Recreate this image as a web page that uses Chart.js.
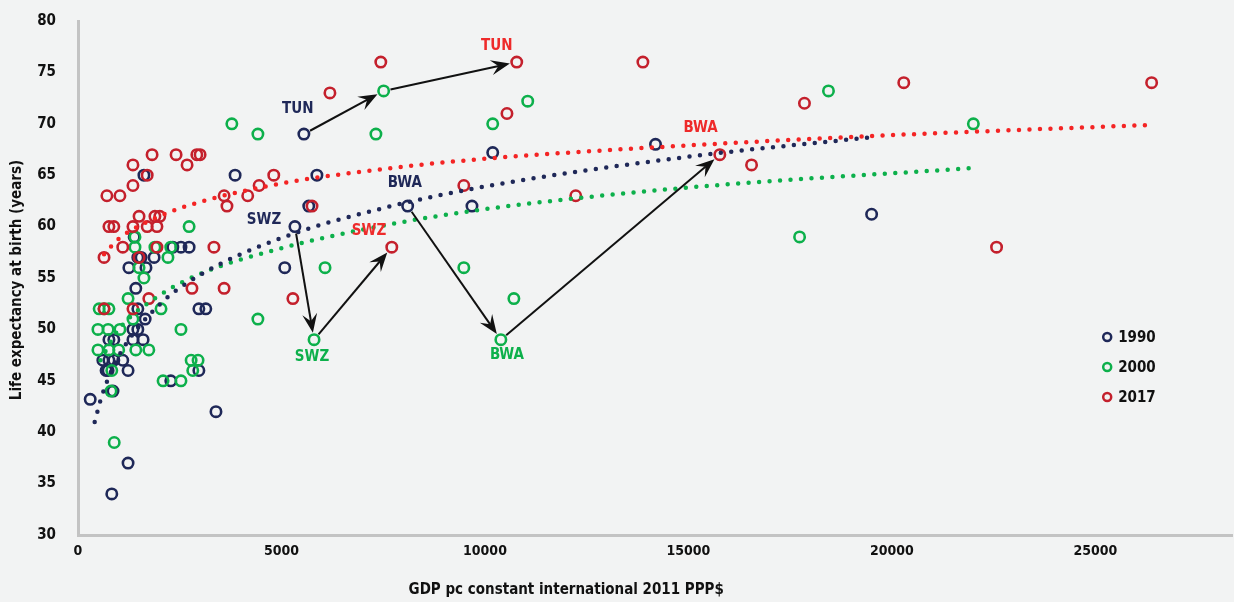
<!DOCTYPE html>
<html>
<head>
<meta charset="utf-8">
<script src="https://cdn.jsdelivr.net/npm/chart.js@4.4.1/dist/chart.umd.min.js"></script>
<style>
  html, body { margin: 0; padding: 0; background: #f2f3f3; overflow: hidden; }
  #wrap { width: 1240px; height: 602px; position: relative; }
</style>
</head>
<body>
<div id="wrap"><canvas id="lifeChart"></canvas></div>
<script>
// GDP pc (2011 PPP$) vs life expectancy, [gdp, years]
const pts1990 = [
  [300, 43.2], [830, 34], [1230, 37], [3390, 42], [860, 44], [1230, 46], [690, 46],
  [2280, 45], [2970, 46], [2970, 52], [3140, 52], [1420, 54], [1650, 51], [1470, 52],
  [1350, 50], [1470, 50], [1350, 49], [1600, 49], [760, 49], [880, 49], [610, 47],
  [760, 47], [880, 47], [1100, 47], [740, 46], [1250, 56], [1670, 56], [1470, 57],
  [1550, 57], [1870, 57], [1380, 59], [2330, 58], [2530, 58], [2730, 58], [1620, 65],
  [3860, 65], [5550, 69], [5870, 65], [5670, 62], [8100, 62], [9680, 62], [5330, 60],
  [5080, 56], [10190, 67.2], [14190, 68], [19500, 61.2]
];
const pts2000 = [
  [3780, 70], [4420, 69], [7320, 69], [7510, 73.2], [2730, 60], [1400, 59], [1400, 58],
  [1890, 58], [2280, 58], [2210, 57], [1500, 56], [1620, 55], [1230, 53], [520, 52],
  [640, 52], [760, 52], [1350, 51], [2040, 52], [2530, 50], [490, 50], [740, 50],
  [1030, 50], [490, 48], [760, 48], [1000, 48], [1420, 48], [1740, 48], [2780, 47],
  [2950, 47], [2820, 46], [2090, 45], [2530, 45], [830, 46], [810, 44], [890, 39],
  [6070, 56], [4420, 51], [5800, 49], [9480, 56], [10710, 53], [10390, 49], [10190, 70],
  [11050, 72.2], [18440, 73.2], [22000, 70], [17730, 59]
];
const pts2017 = [
  [1820, 67], [2410, 67], [2920, 67], [3000, 67], [2680, 66], [1350, 66], [1700, 65],
  [1350, 64], [710, 63], [1030, 63], [1500, 61], [1890, 61], [2010, 61], [760, 60],
  [880, 60], [1350, 60], [1700, 60], [1940, 60], [3590, 63], [4170, 63], [3660, 62],
  [3340, 58], [1940, 58], [1100, 58], [640, 57], [1500, 57], [2800, 54], [3590, 54],
  [1740, 53], [640, 52], [1350, 52], [7440, 76], [6190, 73], [4810, 65], [4450, 64],
  [5750, 62], [9480, 64], [7710, 58], [5280, 53], [10780, 76], [13880, 76], [10540, 71],
  [15770, 67], [16550, 66], [12230, 63], [17850, 72], [20290, 74], [26380, 74], [22570, 58]
];

// trend lines
const trend1990 = [[410, 41.0], [600, 43.7], [1000, 47.4], [2000, 52.4], [3000, 55.3],
  [5000, 58.9], [7500, 61.8], [10000, 63.9], [15000, 66.8], [19500, 68.7]];
const trend2000 = [[550, 47.0], [1000, 50.0], [2000, 53.3], [3000, 55.4], [5000, 57.9],
  [7500, 60.1], [10000, 61.7], [15000, 63.8], [22000, 65.7]];
const trend2017 = [[640, 57.3], [1000, 58.8], [2000, 61.0], [3000, 62.4], [5000, 64.2],
  [7500, 65.6], [10000, 66.6], [15000, 67.9], [20000, 68.9], [26400, 69.9]];

// country paths 1990 -> 2000 -> 2017
const pathTUN = [[5550, 69], [7510, 73.2], [10780, 76]];
const pathSWZ = [[5330, 60], [5800, 49], [7710, 58]];
const pathBWA = [[8100, 62], [10390, 49], [15770, 67]];

const years = ['1990', '2000', '2017'];
const xTicks = [0, 5000, 10000, 15000, 20000, 25000];

const NAVY = '#1f2858';
const GREEN = '#0db04b';
const RED = '#c4202c';
const RED_TREND = '#f42424';
const FONT = "'Liberation Sans Narrow', 'DejaVu Sans Condensed', 'Arial Narrow', sans-serif";

const toXY = (arr) => arr.map(([x, y]) => ({ x, y }));

const labelNotes = [
  { text: 'TUN', color: NAVY, x: 5400, y: 71.4 },
  { text: 'TUN', color: '#ee2a2a', x: 10290, y: 77.6 },
  { text: 'BWA', color: NAVY, x: 8030, y: 64.2 },
  { text: 'BWA', color: '#ee2a2a', x: 15300, y: 69.6 },
  { text: 'BWA', color: GREEN, x: 10540, y: 47.5 },
  { text: 'SWZ', color: NAVY, x: 4570, y: 60.6 },
  { text: 'SWZ', color: '#ee2a2a', x: 7150, y: 59.6 },
  { text: 'SWZ', color: GREEN, x: 5750, y: 47.3 }
];

function drawArrow(ctx, x0, y0, x1, y1) {
  const a = Math.atan2(y1 - y0, x1 - x0);
  const r = 7;
  const sx = x0 + Math.cos(a) * r, sy = y0 + Math.sin(a) * r;
  const ex = x1 - Math.cos(a) * r, ey = y1 - Math.sin(a) * r;
  const L = 19, W = 7.5;
  ctx.beginPath();
  ctx.moveTo(sx, sy);
  ctx.lineTo(ex - Math.cos(a) * L * 0.6, ey - Math.sin(a) * L * 0.6);
  ctx.stroke();
  ctx.save();
  ctx.translate(ex, ey);
  ctx.rotate(a);
  ctx.beginPath();
  ctx.moveTo(0, 0);
  ctx.lineTo(-L, -W);
  ctx.lineTo(-L * 0.62, 0);
  ctx.lineTo(-L, W);
  ctx.closePath();
  ctx.fill();
  ctx.restore();
}

const decorPlugin = {
  id: 'decor',
  afterDatasetsDraw(chart) {
    const { ctx, chartArea, scales } = chart;
    const px = (v) => scales.x.getPixelForValue(v);
    const py = (v) => scales.y.getPixelForValue(v);

    // arrows
    ctx.save();
    ctx.strokeStyle = '#111';
    ctx.fillStyle = '#111';
    ctx.lineWidth = 2;
    [pathTUN, pathSWZ, pathBWA].forEach((path) => {
      for (let i = 0; i < path.length - 1; i++) {
        drawArrow(ctx, px(path[i][0]), py(path[i][1]), px(path[i + 1][0]), py(path[i + 1][1]));
      }
    });
    ctx.restore();

    // country labels
    ctx.save();
    ctx.font = `bold 15px ${FONT}`;
    ctx.textAlign = 'center';
    ctx.textBaseline = 'middle';
    labelNotes.forEach((n) => {
      ctx.fillStyle = n.color;
      ctx.fillText(n.text, px(n.x), py(n.y));
    });
    ctx.restore();

    // legend
    ctx.save();
    const colors = [NAVY, GREEN, RED];
    const lx = chartArea.right - 125;
    ctx.font = `bold 15px ${FONT}`;
    ctx.textBaseline = 'middle';
    years.forEach((yr, i) => {
      const ly = chartArea.top + 316 + i * 30;
      ctx.beginPath();
      ctx.arc(lx, ly, 4, 0, Math.PI * 2);
      ctx.lineWidth = 2.5;
      ctx.strokeStyle = colors[i];
      ctx.stroke();
      ctx.fillStyle = '#111';
      ctx.fillText(yr, lx + 11, ly + 1);
    });
    ctx.restore();

    // axis titles
    ctx.save();
    ctx.fillStyle = '#111';
    ctx.font = `bold 15px ${FONT}`;
    ctx.textAlign = 'center';
    ctx.textBaseline = 'middle';
    ctx.fillText('GDP pc constant international 2011 PPP$',
      chartArea.left + (chartArea.right - chartArea.left) * 0.423, chart.height - 12);
    ctx.translate(17, (chartArea.top + chartArea.bottom) / 2 + 2);
    ctx.rotate(-Math.PI / 2);
    ctx.fillText('Life expectancy at birth (years)', 0, 0);
    ctx.restore();
  }
};

const scatterSet = (label, pts, color, order) => ({
  label,
  data: toXY(pts),
  showLine: false,
  pointRadius: 5.2,
  pointBorderWidth: 2.6,
  pointBackgroundColor: 'rgba(0,0,0,0)',
  pointBorderColor: color,
  order
});

const trendSet = (label, pts, color) => ({
  label,
  data: toXY(pts),
  showLine: true,
  pointRadius: 0,
  borderColor: color,
  borderWidth: 4.5,
  borderDash: [0, 10.5],
  borderCapStyle: 'round',
  cubicInterpolationMode: 'monotone',
  fill: false,
  order: 0
});

Chart.defaults.font.family = FONT;

new Chart(document.getElementById('lifeChart').getContext('2d'), {
  type: 'scatter',
  data: {
    datasets: [
      scatterSet('1990', pts1990, NAVY, 3),
      scatterSet('2000', pts2000, GREEN, 2),
      scatterSet('2017', pts2017, RED, 1),
      trendSet('trend 1990', trend1990, NAVY),
      trendSet('trend 2000', trend2000, GREEN),
      trendSet('trend 2017', trend2017, RED_TREND)
    ]
  },
  options: {
    responsive: true,
    maintainAspectRatio: false,
    animation: false,
    layout: { padding: { left: 0, right: 2, top: 21, bottom: 0 } },
    scales: {
      x: {
        type: 'linear',
        min: 0,
        max: 28360,
        border: { display: true, color: '#c3c3c3', width: 3 },
        grid: { display: false, drawTicks: false },
        afterBuildTicks: (scale) => {
          scale.ticks = xTicks.map((v) => ({ value: v }));
        },
        afterFit: (scale) => {
          scale.height = 67;
          scale.paddingLeft = 0;
          scale.paddingRight = 0;
        },
        ticks: {
          color: '#111',
          padding: 8,
          maxRotation: 0,
          font: { size: 14, weight: 'bold' },
          callback: (v) => String(v)
        }
      },
      y: {
        min: 30,
        max: 80,
        border: { display: true, color: '#c3c3c3', width: 3 },
        grid: { display: false, drawTicks: false },
        afterFit: (scale) => {
          scale.width = 78;
          scale.paddingTop = 0;
          scale.paddingBottom = 0;
        },
        ticks: {
          stepSize: 5,
          color: '#111',
          padding: 22,
          font: { size: 15, weight: 'bold' }
        }
      }
    },
    plugins: {
      legend: { display: false },
      tooltip: { enabled: false }
    }
  },
  plugins: [decorPlugin]
});
</script>
</body>
</html>
